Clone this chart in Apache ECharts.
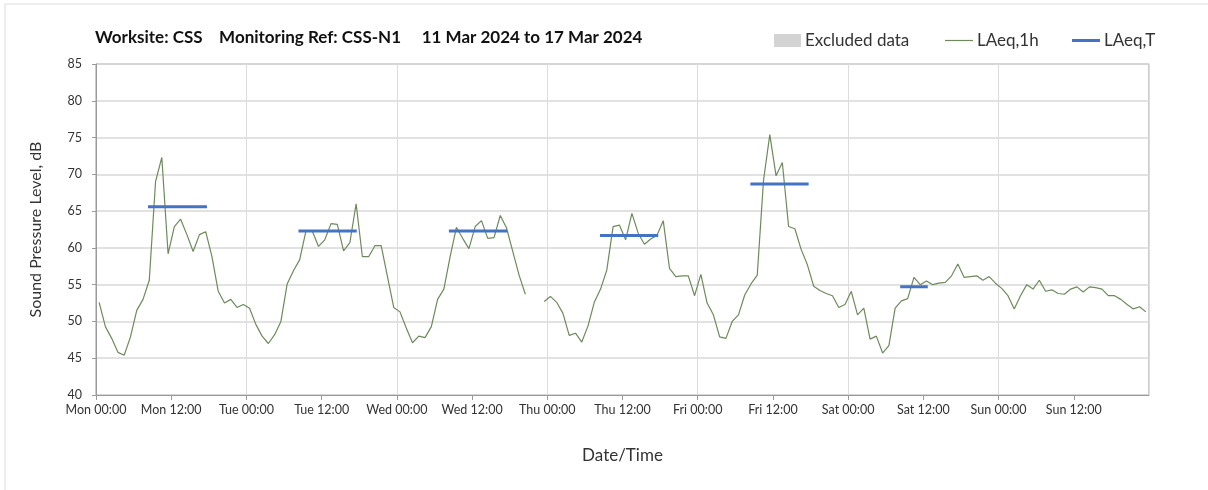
<!DOCTYPE html>
<html>
<head>
<meta charset="utf-8">
<script src="https://cdn.jsdelivr.net/npm/echarts@6/dist/echarts.min.js"></script>
<style>
  html, body { margin: 0; padding: 0; background: #fff; }
  #chart { width: 1208px; height: 490px; }
</style>
</head>
<body>
<div id="chart"></div>
<script>
// hourly LAeq,1h, Mon 00:00 (index 0) to Sun 23:00 (index 167); null = no data
var laeq1h = [
  52.6, 49.3, 47.7, 45.8, 45.4, 47.9, 51.5, 53.0, 55.6, 69.0, 72.3, 59.2,
  62.9, 63.9, 61.8, 59.5, 61.8, 62.2, 58.8, 54.1, 52.5, 53.0, 51.9, 52.3,
  51.8, 49.6, 48.0, 47.0, 48.2, 50.0, 55.1, 56.9, 58.4, 62.3, 62.3, 60.2,
  61.1, 63.3, 63.2, 59.6, 60.7, 66.0, 58.8, 58.8, 60.3, 60.3, 56.1, 51.9,
  51.3, 49.1, 47.1, 48.0, 47.8, 49.3, 53.0, 54.4, 58.8, 62.8, 61.3, 59.9,
  62.9, 63.7, 61.3, 61.4, 64.4, 62.7, 59.5, 56.3, 53.7, null, null, 52.7,
  53.4, 52.6, 51.1, 48.1, 48.4, 47.2, 49.4, 52.6, 54.4, 57.0, 62.9, 63.1,
  61.1, 64.7, 62.0, 60.5, 61.2, 61.7, 63.7, 57.2, 56.1, 56.2, 56.2, 53.5,
  56.4, 52.5, 50.9, 47.9, 47.7, 50.0, 50.9, 53.6, 55.1, 56.3, 69.2, 75.4,
  69.8, 71.6, 62.9, 62.6, 59.8, 57.7, 54.8, 54.2, 53.8, 53.5, 51.9, 52.3,
  54.1, 50.9, 51.8, 47.6, 48.0, 45.7, 46.7, 51.8, 52.8, 53.1, 56.0, 55.0,
  55.5, 55.0, 55.2, 55.3, 56.2, 57.8, 56.0, 56.1, 56.2, 55.6, 56.1, 55.2,
  54.5, 53.5, 51.7, 53.5, 55.0, 54.4, 55.6, 54.1, 54.3, 53.8, 53.7, 54.4,
  54.7, 54.0, 54.7, 54.6, 54.4, 53.5, 53.5, 53.0, 52.3, 51.7, 52.0, 51.3
];

// LAeq,T daytime periods (hours from Mon 00:00)
var periodStart = [8.3, 32.3, 56.3, 80.4, 104.4, 128.3];
var periodEnd   = [17.7, 41.6, 65.6, 89.7, 113.7, 132.7];
var periodLevel = [65.6, 62.3, 62.3, 61.7, 68.7, 54.7];

var dayNames = ['Mon', 'Tue', 'Wed', 'Thu', 'Fri', 'Sat', 'Sun'];
var yTicks = [40, 45, 50, 55, 60, 65, 70, 75, 80, 85];

var FONT = 'Lato, "Open Sans", sans-serif';
var GREEN = '#6d8a5c';
var BLUE = '#4472c4';

var hourly = laeq1h.map(function (v, i) {
    return [i + 0.5, v == null ? '-' : v];
});

var periods = [];
for (var i = 0; i < periodStart.length; i++) {
    periods.push([periodStart[i], periodLevel[i]]);
    periods.push([periodEnd[i], periodLevel[i]]);
    periods.push([periodEnd[i], '-']);
}

function legendAt(left, name, w, h) {
    return {
        left: left,
        top: 27,
        icon: 'rect',
        itemWidth: w,
        itemHeight: h,
        itemGap: 0,
        selectedMode: false,
        textStyle: { fontFamily: FONT, fontSize: 17, color: '#333', padding: [0, 0, 0, -1] },
        data: [name]
    };
}

var chart = echarts.init(document.getElementById('chart'));

var option = {
    animation: false,
    backgroundColor: '#fff',
    textStyle: { fontFamily: FONT },
    graphic: [{
        type: 'rect',
        shape: { x: 5, y: 4, width: 1260, height: 520 },
        style: { fill: null, stroke: '#dcdcdc', lineWidth: 1 },
        silent: true
    }],
    title: {
        text: 'Worksite: CSS    Monitoring Ref: CSS-N1     11 Mar 2024 to 17 Mar 2024',
        left: 90,
        top: 24,
        textStyle: { fontFamily: FONT, fontSize: 17, fontWeight: 'bold', color: '#111' }
    },
    legend: [
        legendAt(769, 'Excluded data', 27, 13),
        legendAt(940, 'LAeq,1h', 28, 1.2),
        legendAt(1067, 'LAeq,T', 28, 3)
    ],
    grid: {
        left: 96,
        right: 59,
        top: 64,
        bottom: 95,
        show: true,
        borderColor: '#9a9a9a',
        borderWidth: 1
    },
    xAxis: [{
        type: 'value',
        min: 0,
        max: 168,
        interval: 12,
        name: 'Date/Time',
        nameLocation: 'middle',
        nameGap: 52,
        nameTextStyle: { fontFamily: FONT, fontSize: 17, color: '#333' },
        axisLine: { lineStyle: { color: '#9a9a9a' } },
        axisTick: { length: 5, lineStyle: { color: '#9a9a9a' } },
        axisLabel: {
            fontFamily: FONT,
            fontSize: 12.5,
            color: '#333',
            margin: 8,
            showMaxLabel: false,
            formatter: function (v) {
                var d = Math.floor(v / 24);
                if (d > 6) return '';
                return dayNames[d] + (v % 24 === 0 ? ' 00:00' : ' 12:00');
            }
        },
        splitLine: { show: false }
    }, {
        type: 'value',
        min: 0,
        max: 168,
        interval: 24,
        show: true,
        position: 'bottom',
        axisLine: { show: false },
        axisTick: { show: false },
        axisLabel: { show: false },
        splitLine: { show: true, lineStyle: { color: '#dcdcdc', width: 1 } }
    }],
    yAxis: {
        type: 'value',
        min: yTicks[0],
        max: yTicks[yTicks.length - 1],
        interval: 5,
        name: 'Sound Pressure Level, dB',
        nameLocation: 'middle',
        nameGap: 52,
        nameTextStyle: { fontFamily: FONT, fontSize: 16, color: '#333' },
        axisLine: { show: true, lineStyle: { color: '#9a9a9a' } },
        axisTick: { show: true, length: 4, lineStyle: { color: '#9a9a9a' } },
        axisLabel: { fontFamily: FONT, fontSize: 12.5, color: '#333', margin: 14 },
        splitLine: { lineStyle: { color: '#d9d9d9', width: 1.5 } }
    },
    series: [{
        name: 'Excluded data',
        type: 'bar',
        data: [],
        itemStyle: { color: '#d3d3d3' }
    }, {
        name: 'LAeq,1h',
        type: 'line',
        data: hourly,
        symbol: 'none',
        connectNulls: false,
        lineStyle: { color: GREEN, width: 1.2 },
        itemStyle: { color: GREEN },
        z: 3
    }, {
        name: 'LAeq,T',
        type: 'line',
        data: periods,
        symbol: 'none',
        connectNulls: false,
        lineStyle: { color: BLUE, width: 3 },
        itemStyle: { color: BLUE },
        z: 4
    }]
};

chart.setOption(option);
</script>
</body>
</html>
